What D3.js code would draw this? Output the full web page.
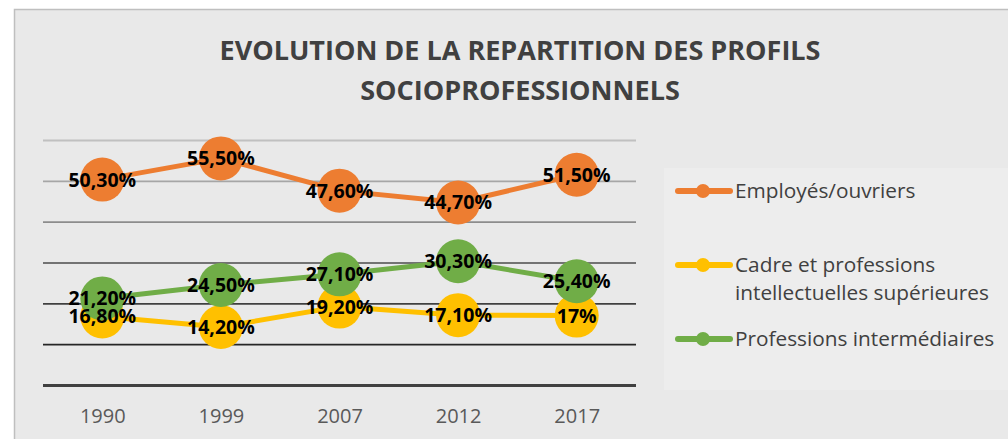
<!DOCTYPE html>
<html>
<head>
<meta charset="utf-8">
<script src="https://cdn.jsdelivr.net/npm/d3@7"></script>
<style>
  body { margin: 0; background: #ffffff; }
  #chart-area { width: 1008px; height: 439px; overflow: hidden; }
  text { font-family: "Open Sans", Lato, sans-serif; }
</style>
</head>
<body>
<div id="chart-area"></div>
<script>
const years = ["1990", "1999", "2007", "2012", "2017"];
const employes = [50.3, 55.5, 47.6, 44.7, 51.5];
const cadres = [16.8, 14.2, 19.2, 17.1, 17];
const intermediaires = [21.2, 24.5, 27.1, 30.3, 25.4];
const seriesNames = ["Employés/ouvriers", "Cadre et professions intellectuelles supérieures", "Professions intermédiaires"];
const yTicks = [0, 10, 20, 30, 40, 50, 60];
const titleLines = ["EVOLUTION DE LA REPARTITION DES PROFILS", "SOCIOPROFESSIONNELS"];

function renderChart() {
    const svgWidth = 1008;
    const svgHeight = 439;
    const margin = { top: 140, right: 372, bottom: 54, left: 43 };
    const width = svgWidth - margin.left - margin.right;
    const height = svgHeight - margin.top - margin.bottom;

    const colors = ["#ED7D31", "#FFC000", "#70AD47"];
    const gridColors = ["#404040", "#262626", "#404040", "#737373", "#8c8c8c", "#a6a6a6", "#c0c0c0"];

    const series = [employes, cadres, intermediaires].map((values, i) => ({
        name: seriesNames[i],
        color: colors[i],
        values: values.map((v, j) => ({ year: years[j], value: v }))
    }));

    const svg = d3.select("#chart-area")
        .append("svg")
        .attr("width", svgWidth)
        .attr("height", svgHeight);

    // chart frame (cut by the right and bottom edge)
    svg.append("rect")
        .attr("x", 14.5)
        .attr("y", 9.5)
        .attr("width", 1100)
        .attr("height", 500)
        .attr("fill", "#e9e9e9")
        .attr("stroke", "#bfbfbf")
        .attr("stroke-width", 1.5);

    svg.append("text")
        .attr("text-anchor", "middle")
        .style("font-weight", "bold")
        .style("font-size", "27px")
        .attr("fill", "#404040")
        .selectAll("tspan")
        .data(titleLines)
        .join("tspan")
        .attr("x", 520)
        .attr("y", (d, i) => 60 + i * 40)
        .text(d => d);

    const g = svg.append("g")
        .attr("transform", `translate(${margin.left}, ${margin.top})`);

    const xScale = d3.scalePoint().domain(years).range([0, width]).padding(0.5);
    const yScale = d3.scaleLinear().domain([0, 60]).range([height, 0]);

    // grid lines, darker towards the bottom
    g.append("g")
        .attr("class", "grid")
        .call(d3.axisLeft(yScale).tickValues(yTicks).tickSize(-width).tickFormat(""))
        .call(gr => gr.select(".domain").remove())
        .selectAll("line")
        .attr("stroke", (d, i) => gridColors[i])
        .attr("stroke-width", d => d === 0 ? 3 : 1.8);

    g.append("g")
        .attr("class", "x-axis")
        .attr("transform", `translate(0, ${height})`)
        .call(d3.axisBottom(xScale).tickSize(0).tickPadding(24))
        .call(ax => ax.select(".domain").remove())
        .selectAll("text")
        .style("font-size", "20px")
        .style("font-family", "'Open Sans', Lato, sans-serif")
        .attr("fill", "#595959");

    const line = d3.line()
        .x(d => xScale(d.year))
        .y(d => yScale(d.value));

    const seriesGroups = g.selectAll(".series")
        .data(series)
        .join("g")
        .attr("class", "series");

    seriesGroups.append("path")
        .attr("d", d => line(d.values))
        .attr("fill", "none")
        .attr("stroke", d => d.color)
        .attr("stroke-width", 5)
        .attr("stroke-linejoin", "round");

    seriesGroups.selectAll("circle")
        .data(d => d.values.map(v => ({ ...v, color: d.color })))
        .join("circle")
        .attr("cx", d => xScale(d.year))
        .attr("cy", d => yScale(d.value))
        .attr("r", 22)
        .attr("fill", d => d.color);

    const formatPct = v => (Number.isInteger(v) ? String(v) : v.toFixed(2).replace(".", ",")) + "%";

    g.append("g")
        .attr("class", "labels")
        .selectAll("text")
        .data(series.flatMap(s => s.values))
        .join("text")
        .attr("x", d => xScale(d.year))
        .attr("y", d => yScale(d.value))
        .attr("dy", "0.36em")
        .attr("text-anchor", "middle")
        .style("font-weight", "bold")
        .style("font-size", "19.5px")
        .attr("fill", "#000000")
        .text(d => formatPct(d.value));

    // legend
    const legend = svg.append("g").attr("class", "legend");
    legend.append("rect")
        .attr("x", 664)
        .attr("y", 168)
        .attr("width", 400)
        .attr("height", 222)
        .attr("fill", "#ededed");

    const legendY = [191, 265, 339];
    const legendText = [["Employés/ouvriers"], ["Cadre et professions", "intellectuelles supérieures"], ["Professions intermédiaires"]];

    const items = legend.selectAll(".item")
        .data(series)
        .join("g")
        .attr("class", "item")
        .attr("transform", (d, i) => `translate(0, ${legendY[i]})`);

    items.append("line")
        .attr("x1", 678)
        .attr("x2", 730)
        .attr("stroke", d => d.color)
        .attr("stroke-width", 6)
        .attr("stroke-linecap", "round");

    items.append("circle")
        .attr("cx", 703)
        .attr("r", 7)
        .attr("fill", d => d.color);

    items.append("text")
        .attr("fill", "#404040")
        .style("font-size", "20.8px")
        .selectAll("tspan")
        .data((d, i) => legendText[i])
        .join("tspan")
        .attr("x", 735)
        .attr("y", (d, i) => 7 + i * 28)
        .text(d => d);
}

renderChart();
</script>
</body>
</html>
